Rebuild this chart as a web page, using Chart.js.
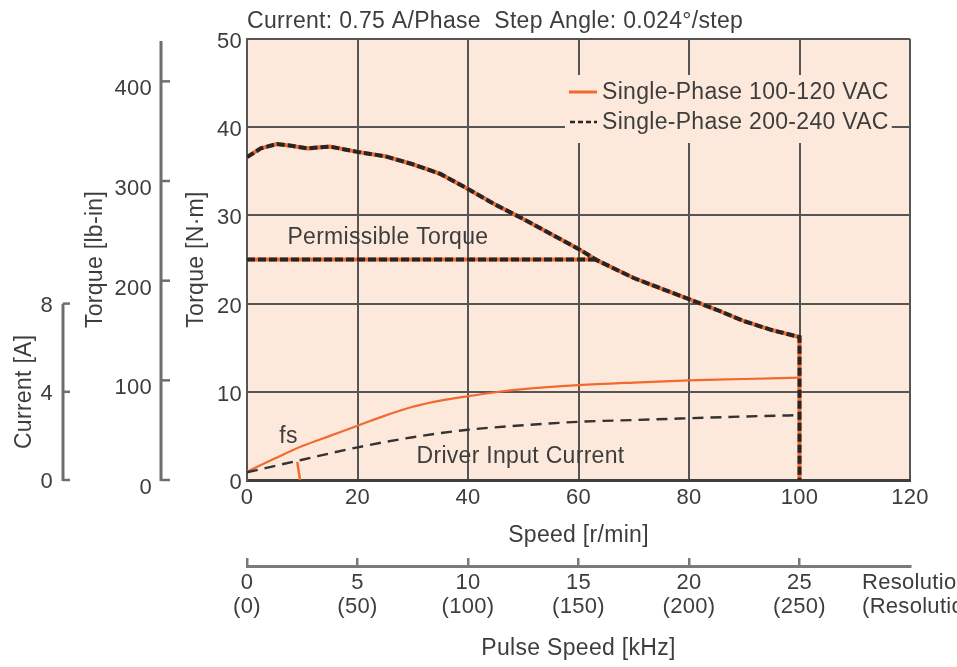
<!DOCTYPE html>
<html><head><meta charset="utf-8">
<script src="https://cdn.jsdelivr.net/npm/chart.js@4.4.1/dist/chart.umd.min.js"></script>
<style>html,body{margin:0;padding:0;background:#fff;}#wrap{width:957px;height:667px;}</style>
</head><body><div id="wrap"><canvas id="c" width="957" height="667"></canvas></div>
<script>
// ---- data ----
const speedTorque = [0, 2.5, 5.4, 8, 11, 15, 20, 25, 30, 35, 40, 45, 50, 55, 60, 63.4, 70, 75, 80, 85, 90, 95, 100, 100];
const torqueNm    = [36.6, 37.6, 38.1, 37.9, 37.6, 37.8, 37.2, 36.7, 35.8, 34.7, 33.0, 31.2, 29.6, 27.9, 26.2, 24.9, 22.9, 21.7, 20.5, 19.3, 18.0, 17.0, 16.2, 0];
const permSpeed   = [0, 63.4];
const permTorque  = [25, 25];
const speedCur100 = [0, 5, 10, 15, 20, 25, 30, 35, 40, 45, 50, 60, 70, 80, 90, 100];
const current100  = [0.38, 0.97, 1.54, 2.0, 2.46, 2.92, 3.32, 3.6, 3.8, 3.98, 4.12, 4.3, 4.42, 4.52, 4.58, 4.64];
const speedCur200 = [0, 10, 20, 30, 40, 50, 60, 70, 80, 90, 100];
const current200  = [0.35, 0.92, 1.48, 1.94, 2.28, 2.48, 2.64, 2.72, 2.8, 2.88, 2.94];
const fsMarkSpeed  = [9.1, 9.6];
const fsMarkTorque = [2.05, 0];
const speedTicks   = [0, 20, 40, 60, 80, 100, 120];
const torqueTicks  = [0, 10, 20, 30, 40, 50];
const lbinTicks    = [0, 100, 200, 300, 400];
const currentTicks = [0, 4, 8];
const pulseTicks   = [0, 5, 10, 15, 20, 25];
const pulseLabels  = [['0','(0)'],['5','(50)'],['10','(100)'],['15','(150)'],['20','(200)'],['25','(250)']];
const resolutionLabels = ['Resolution 1', '(Resolution 10)'];
const seriesLabels = ['Single-Phase 100-120 VAC', 'Single-Phase 200-240 VAC'];
const titleText = 'Current: 0.75 A/Phase  Step Angle: 0.024\u00B0/step';
const NM_TO_LBIN = 8.85;
const NM_PER_AMP = 2.5;   // 8 A on current axis aligns with 20 N·m
const RPM_PER_KHZ = 4;    // 25 kHz aligns with 100 r/min

const ORANGE = '#f26a30';
const BLACK = '#262626';
const GRID = '#555555';
const TEXT = '#3d3d3d';
const FONT = "'Liberation Sans', Arial, sans-serif";
const TXT = 23, TICK = 22, LS = '0.3px';

const pts = (xs, ys) => xs.map((x, i) => ({x, y: ys[i]}));

Chart.defaults.font.family = FONT;
Chart.defaults.font.size = TICK;
Chart.defaults.color = TEXT;

const bgPlugin = {
  id: 'bg',
  beforeDraw(chart) {
    const {ctx, chartArea: a} = chart;
    ctx.letterSpacing = LS;
    ctx.save();
    ctx.fillStyle = '#fce9dc';
    ctx.fillRect(a.left, a.top, a.right - a.left, a.bottom - a.top);
    ctx.restore();
  },
  afterDraw(chart) { chart.ctx.letterSpacing = '0px'; }
};

const legendPlugin = {
  id: 'insideLegend',
  beforeDatasetsDraw(chart) {
    const {ctx, chartArea: a} = chart;
    ctx.save();
    ctx.font = TXT + 'px ' + FONT;
    ctx.letterSpacing = LS;
    const tx = a.left + 355;
    const w = Math.max(ctx.measureText(seriesLabels[0]).width, ctx.measureText(seriesLabels[1]).width);
    const y1 = a.top + 54, y2 = a.top + 84;
    ctx.fillStyle = '#fce9dc';
    ctx.fillRect(tx - 37, a.top + 36, w + 40, 68);
    ctx.lineWidth = 3;
    ctx.strokeStyle = ORANGE;
    ctx.beginPath(); ctx.moveTo(tx - 33, y1 - 1); ctx.lineTo(tx - 5, y1 - 1); ctx.stroke();
    ctx.strokeStyle = BLACK; ctx.lineWidth = 2.5; ctx.setLineDash([5, 3]);
    ctx.beginPath(); ctx.moveTo(tx - 32, y2 - 1); ctx.lineTo(tx - 5, y2 - 1); ctx.stroke();
    ctx.setLineDash([]);
    ctx.fillStyle = TEXT; ctx.textAlign = 'left'; ctx.textBaseline = 'middle';
    ctx.fillText(seriesLabels[0], tx, y1);
    ctx.fillText(seriesLabels[1], tx, y2);
    ctx.restore();
  }
};

const extrasPlugin = {
  id: 'extras',
  afterDraw(chart) {
    const {ctx} = chart;
    const x = chart.scales.x, y = chart.scales.y, yl = chart.scales.yLb, yc = chart.scales.yCur, xp = chart.scales.xPulse;
    ctx.save();
    ctx.letterSpacing = LS;
    // lb-in axis line and ticks
    ctx.strokeStyle = '#6e6e6e'; ctx.lineWidth = 3;
    ctx.beginPath(); ctx.moveTo(yl.right, yl.getPixelForValue(0) + 1); ctx.lineTo(yl.right, yl.top + 2); ctx.stroke();
    ctx.lineWidth = 2.5;
    lbinTicks.forEach(v => { const p = yl.getPixelForValue(v); ctx.beginPath(); ctx.moveTo(yl.right, p); ctx.lineTo(yl.right + 9, p); ctx.stroke(); });
    // current axis line and ticks
    ctx.lineWidth = 3;
    ctx.beginPath(); ctx.moveTo(yc.right, yc.getPixelForValue(0) + 1); ctx.lineTo(yc.right, yc.getPixelForValue(currentTicks[currentTicks.length - 1])); ctx.stroke();
    ctx.lineWidth = 2.5;
    currentTicks.forEach(v => { const p = yc.getPixelForValue(v); ctx.beginPath(); ctx.moveTo(yc.right, p); ctx.lineTo(yc.right + 7, p); ctx.stroke(); });
    // current axis title
    ctx.fillStyle = TEXT; ctx.font = TXT + 'px ' + FONT;
    ctx.save();
    ctx.translate(yc.left + 25, yc.getPixelForValue(4));
    ctx.rotate(-Math.PI / 2);
    ctx.textAlign = 'center'; ctx.textBaseline = 'middle';
    ctx.fillText('Current [A]', 0, 0);
    ctx.restore();
    // plot annotations
    ctx.textAlign = 'center'; ctx.textBaseline = 'middle';
    ctx.fillText('Permissible Torque', x.getPixelForValue(25.5), y.getPixelForValue(27.5));
    ctx.fillText('fs', x.getPixelForValue(7.5), y.getPixelForValue(4.9));
    ctx.fillText('Driver Input Current', x.getPixelForValue(49.5), y.getPixelForValue(2.7));
    // resolution labels on pulse axis
    ctx.textAlign = 'left';
    ctx.font = TICK + 'px ' + FONT;
    ctx.fillText(resolutionLabels[0], xp.right - 48, xp.top + 17);
    ctx.fillText(resolutionLabels[1], xp.right - 48, xp.top + 41);
    ctx.restore();
  }
};

const lineBase = {showLine: true, pointRadius: 0, fill: false, tension: 0};

new Chart(document.getElementById('c'), {
  type: 'scatter',
  data: {
    datasets: [
      Object.assign({}, lineBase, {label: seriesLabels[1], data: pts(speedTorque, torqueNm), borderColor: BLACK, borderWidth: 4, borderDash: [8, 3], yAxisID: 'y', order: 1}),
      Object.assign({}, lineBase, {label: seriesLabels[1] + ' permissible', data: pts(permSpeed, permTorque), borderColor: BLACK, borderWidth: 4, borderDash: [8, 3], yAxisID: 'y', order: 1}),
      Object.assign({}, lineBase, {label: seriesLabels[0], data: pts(speedTorque, torqueNm), borderColor: ORANGE, borderWidth: 4, yAxisID: 'y', order: 2}),
      Object.assign({}, lineBase, {label: seriesLabels[0] + ' permissible', data: pts(permSpeed, permTorque), borderColor: ORANGE, borderWidth: 4, yAxisID: 'y', order: 2}),
      Object.assign({}, lineBase, {label: seriesLabels[1] + ' current', data: pts(speedCur200, current200), borderColor: '#333333', borderWidth: 2.4, borderDash: [11, 7], cubicInterpolationMode: 'monotone', yAxisID: 'yCur', order: 3}),
      Object.assign({}, lineBase, {label: seriesLabels[0] + ' current', data: pts(speedCur100, current100), borderColor: ORANGE, borderWidth: 2.2, cubicInterpolationMode: 'monotone', yAxisID: 'yCur', order: 3}),
      Object.assign({}, lineBase, {label: 'fs', data: pts(fsMarkSpeed, fsMarkTorque), borderColor: ORANGE, borderWidth: 2.5, yAxisID: 'y', order: 3})
    ]
  },
  options: {
    responsive: false,
    animation: false,
    devicePixelRatio: 1,
    layout: {padding: {left: 0, right: 47, top: 0, bottom: 0}},
    plugins: {
      legend: {display: false},
      tooltip: {enabled: false},
      title: {display: true, text: titleText, align: 'start', fullSize: false, color: TEXT,
              font: {size: TXT, weight: 'normal'}, padding: {top: 8, bottom: 3.4}}
    },
    scales: {
      x: {
        type: 'linear', position: 'bottom', min: 0, max: 120,
        afterBuildTicks: s => { s.ticks = speedTicks.map(v => ({value: v})); },
        afterFit: s => { s.height = 86; },
        ticks: {padding: 5, maxRotation: 0, autoSkip: false},
        grid: {color: GRID, lineWidth: 2, drawTicks: false},
        border: {display: true, color: '#3f3f3f', width: 3},
        title: {display: true, text: 'Speed [r/min]', font: {size: TXT}, padding: {top: 0, bottom: 17}}
      },
      xPulse: {
        type: 'linear', position: 'bottom', min: 0, max: 120 / RPM_PER_KHZ,
        afterBuildTicks: s => { s.ticks = pulseTicks.map(v => ({value: v})); },
        afterFit: s => { s.height = 101; },
        ticks: {padding: 13, maxRotation: 0, autoSkip: false, font: {size: TICK, lineHeight: 1.1},
                callback: (v) => pulseLabels[pulseTicks.indexOf(v)]},
        grid: {drawOnChartArea: false, color: '#7a7a7a', lineWidth: 2.5, tickLength: -8},
        border: {display: true, color: '#7a7a7a', width: 3},
        title: {display: true, text: 'Pulse Speed [kHz]', font: {size: TXT}, padding: {top: 0, bottom: 5}}
      },
      y: {
        type: 'linear', position: 'left', min: 0, max: 50, weight: 0,
        afterBuildTicks: s => { s.ticks = torqueTicks.map(v => ({value: v})); },
        afterFit: s => { s.width = 86; },
        ticks: {padding: 5, labelOffset: 3},
        grid: {color: GRID, lineWidth: 2, drawTicks: false},
        border: {display: true, color: GRID, width: 2},
        title: {display: true, text: 'Torque [N\u00B7m]', font: {size: TXT}, padding: {top: 22, bottom: 0}}
      },
      yLb: {
        type: 'linear', position: 'left', min: 0, max: 50 * NM_TO_LBIN, weight: 1,
        afterBuildTicks: s => { s.ticks = lbinTicks.map(v => ({value: v})); },
        afterFit: s => { s.width = 98; },
        ticks: {padding: 9, labelOffset: 8},
        grid: {display: false, drawTicks: false},
        border: {display: false},
        title: {display: true, text: 'Torque [lb-in]', font: {size: TXT}, padding: {top: 19, bottom: 0}}
      },
      yCur: {
        type: 'linear', position: 'left', min: 0, max: 50 / NM_PER_AMP, weight: 2,
        afterBuildTicks: s => { s.ticks = currentTicks.map(v => ({value: v})); },
        afterFit: s => { s.width = 63; },
        ticks: {padding: 10, labelOffset: 2},
        grid: {display: false, drawTicks: false},
        border: {display: false},
        title: {display: false}
      }
    }
  },
  plugins: [bgPlugin, legendPlugin, extrasPlugin]
});
</script></body></html>
